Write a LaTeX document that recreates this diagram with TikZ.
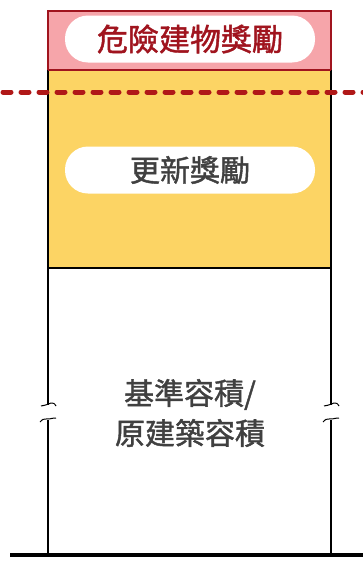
\documentclass[tikz,border=0pt]{standalone}
\usepackage{fontspec}
\newfontfamily\cjk[FakeBold=1.4]{Noto Sans CJK TC}
\definecolor{bonuspink}{HTML}{F6A5AA}
\definecolor{bonusyellow}{HTML}{FCD464}
\definecolor{darkred}{HTML}{A0141E}
\definecolor{dashred}{HTML}{B01818}
\definecolor{textgray}{HTML}{404040}
\tikzset{
  pill/.style={fill=white, rounded corners=23pt, minimum width=250pt, minimum height=47pt, inner sep=0pt},
  wall/.style={line width=1.6pt},
  brk/.style={line width=1pt},
}

\begin{document}
\begin{tikzpicture}[x=1pt,y=-1pt]
\useasboundingbox (0,0) rectangle (363,562);
\coordinate (p1) at (48,11);
\coordinate (p2) at (331,70);
\coordinate (y1) at (48,70);
\coordinate (y2) at (331,268);
\coordinate (w1) at (48,268);
\coordinate (w2) at (331,268);
\coordinate (g1) at (10,555);
\coordinate (g2) at (363,555);
% boxes
\fill[bonuspink] (p1) rectangle (p2);
\fill[bonusyellow] (y1) rectangle (y2);
\draw[darkred, line width=1.6pt] (p1) rectangle (p2);
\draw[wall] (y1) -- (48,268) -- (w2) -- (331,70);
\draw[darkred, line width=1.6pt] (y1) -- (331,70);
% walls with break marks
\draw[wall] (w1) -- (48,405);
\draw[wall] (48,420) -- (48,555);
\draw[wall] (w2) -- (331,405);
\draw[wall] (331,420) -- (331,555);
\foreach \x in {48,331}
{
\draw[brk] (\x-7,406) .. controls (\x-1,405) and (\x,404) .. (\x+3,403) .. controls (\x+6,403) .. (\x+8,406);
\draw[brk] (\x-8,422) .. controls (\x-5,419) .. (\x-2,419) .. controls (\x+1,420) and (\x+2,418) .. (\x+8,418);
}
\draw[line width=3.5pt] (g1) -- (g2);
% dashed line
\draw[dashred, line width=5pt, line cap=round, dash pattern=on 8pt off 10pt] (3,92) -- (363,92);
% labels
\node[pill] (danger) at (190,39) {};
\node[text=darkred, font=\cjk\fontsize{31}{36}\selectfont] (dangertext) at (danger) {危險建物獎勵};
\node[pill] (renew) at (190,170) {};
\node[text=textgray, font=\cjk\fontsize{30}{36}\selectfont] (renewtext) at (renew) {更新獎勵};
\node[text=textgray, font=\cjk\fontsize{30}{40}\selectfont, align=center] (base) at (190,413) {基準容積/\\原建築容積};
\end{tikzpicture}
\end{document}
